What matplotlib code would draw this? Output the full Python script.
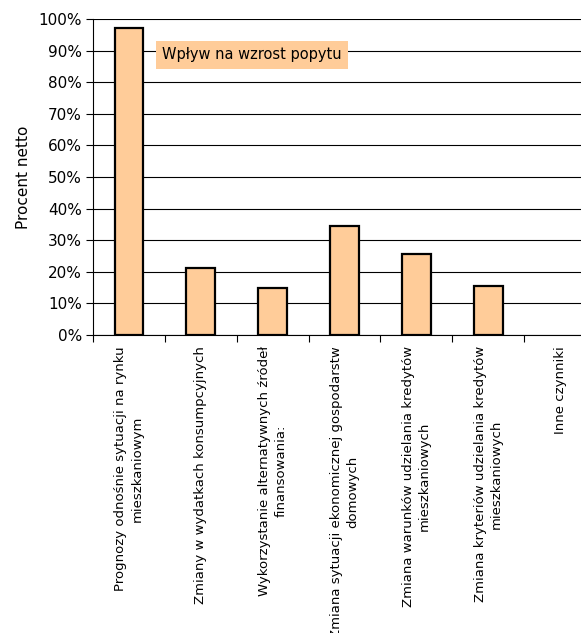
import matplotlib.pyplot as plt
from matplotlib.ticker import FixedLocator

categories = [
    'Prognozy odnośnie sytuacji na rynku\nmieszkaniowym',
    'Zmiany w wydatkach konsumpcyjnych',
    'Wykorzystanie alternatywnych źródeł\nfinansowania:',
    'Zmiana sytuacji ekonomicznej gospodarstw\ndomowych',
    'Zmiana warunków udzielania kredytów\nmieszkaniowych',
    'Zmiana kryteriów udzielania kredytów\nmieszkaniowych',
    'Inne czynniki',
]
values = [97.2, 21.3, 15.0, 34.5, 25.7, 15.5, 0.0]
y_ticks = list(range(0, 101, 10))
y_labels = [f'{t}%' for t in y_ticks]

bar_color = '#FFCC99'

fig = plt.figure(figsize=(5.81, 6.33), dpi=100)
ax = fig.add_axes([0.160, 0.4708, 0.840, 0.4992])

x = list(range(len(categories)))
# zero-valued bars get no outline so they don't show as a line on the axis
edge_widths = [1.6 if v > 0 else 0 for v in values]
ax.bar(x, values, width=0.4, color=bar_color, edgecolor='black',
       linewidth=edge_widths, zorder=3)

ax.set_ylim(0, 100)
ax.set_xlim(-0.5, 6.29)
ax.set_yticks(y_ticks)
ax.set_yticklabels(y_labels, fontsize=11)
ax.yaxis.grid(True, color='black', linewidth=0.8, zorder=0)
ax.set_ylabel('Procent netto', fontsize=11, labelpad=5)

ax.set_xticks(x)
ax.set_xticklabels(categories, rotation=90, fontsize=9.5, va='top', ha='center',
                   multialignment='center', linespacing=1.35)
ax.tick_params(axis='x', which='major', length=0, pad=8)
ax.xaxis.set_minor_locator(FixedLocator([i - 0.5 for i in range(len(categories) + 1)]))
ax.tick_params(axis='x', which='minor', length=5, width=0.8, direction='out')
ax.tick_params(axis='y', length=5, width=0.8, direction='out', pad=3)

for side in ['top', 'right']:
    ax.spines[side].set_visible(False)
ax.spines['left'].set_linewidth(0.8)
ax.spines['bottom'].set_linewidth(0.8)

ax.text(0.142, 0.887, 'Wpływ na wzrost popytu', transform=ax.transAxes,
        fontsize=10.5, va='center', ha='left', zorder=4,
        bbox=dict(boxstyle='square,pad=0.45', facecolor=bar_color, edgecolor='none'))

fig.savefig('out.png', dpi=100)
